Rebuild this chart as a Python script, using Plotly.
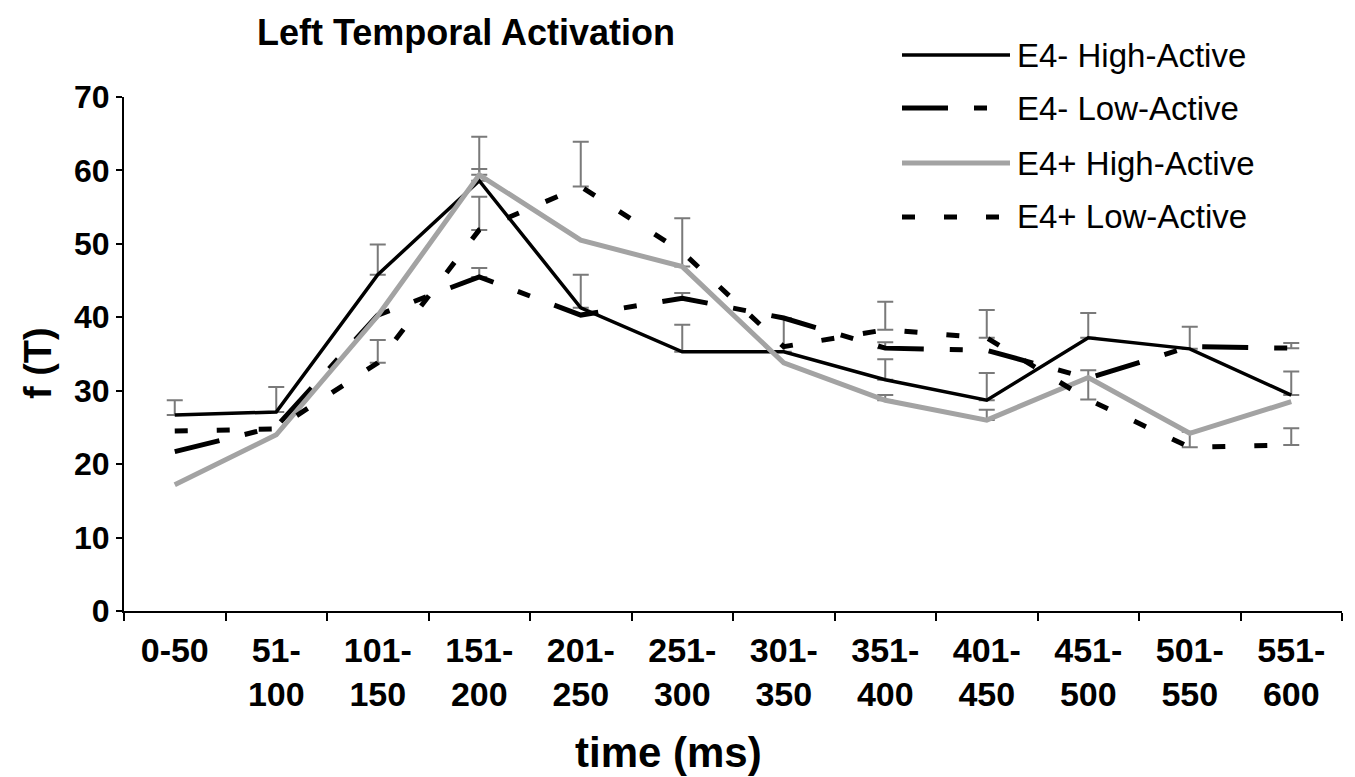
import plotly.graph_objects as go

# ---------------- data ----------------
categories = ["0-50", "51-<br>100", "101-<br>150", "151-<br>200", "201-<br>250", "251-<br>300",
              "301-<br>350", "351-<br>400", "401-<br>450", "451-<br>500", "501-<br>550", "551-<br>600"]

series_names = ["E4- High-Active", "E4- Low-Active", "E4+ High-Active", "E4+ Low-Active"]

e4m_high = [26.7, 27.1, 45.8, 58.6, 41.3, 35.3, 35.3, 31.5, 28.7, 37.2, 35.7, 29.4]
e4m_low = [21.7, 25.1, 40.3, 45.5, 40.3, 42.6, 39.9, 35.8, 35.5, 31.7, 36.0, 35.8]
e4p_high = [17.2, 24.0, 40.2, 59.4, 50.5, 46.9, 33.8, 28.7, 26.0, 31.8, 24.2, 28.5]
e4p_low = [24.5, 24.8, 33.8, 51.9, 57.8, 48.9, 36.0, 38.3, 37.2, 28.8, 22.3, 22.6]

# upper error bars (None = no bar drawn)
err_e4m_high = [2.0, 3.4, 4.1, 1.6, 4.5, 3.7, 4.6, 2.8, 3.7, 3.4, 3.0, 3.2]
err_e4m_low = [None, None, None, 1.2, None, 0.7, None, 0.8, None, None, None, 0.7]
err_e4p_high = [None, None, None, 5.2, None, 6.6, None, 0.7, 1.4, None, None, None]
err_e4p_low = [None, None, 3.1, 4.5, 6.1, None, None, 3.8, 3.8, 4.0, 2.1, 2.3]

y_ticks = [0, 10, 20, 30, 40, 50, 60, 70]

# ---------------- styles ----------------
FONT = "Liberation Sans, Arial, sans-serif"
values = [e4m_high, e4m_low, e4p_high, e4p_low]
errors = [err_e4m_high, err_e4m_low, err_e4p_high, err_e4p_low]
line_styles = [
    dict(color="black", width=3.5, dash="solid"),
    dict(color="black", width=5, dash="46px,26px,13px,26px"),
    dict(color="#a3a3a3", width=5, dash="solid"),
    dict(color="black", width=5, dash="13px,29px"),
]

fig = go.Figure()

# error bars first (beneath lines)
for vals, errs in zip(values, errors):
    xs = [c for c, e in zip(categories, errs) if e is not None]
    ys = [v for v, e in zip(vals, errs) if e is not None]
    es = [e for e in errs if e is not None]
    fig.add_trace(go.Scatter(
        x=xs, y=ys, mode="markers",
        marker=dict(size=1, color="rgba(0,0,0,0)"),
        error_y=dict(type="data", array=es, arrayminus=[0] * len(es), symmetric=False,
                     color="#7a7a7a", thickness=2, width=8),
        showlegend=False, hoverinfo="skip"))

for name, vals, st in zip(series_names, values, line_styles):
    fig.add_trace(go.Scatter(x=categories, y=vals, mode="lines", name=name,
                             line=st, showlegend=False))

# manual legend (long line samples like the reference)
L, R, T, B = 124, 13, 97, 166
W, H = 1355, 777
pw, ph = W - L - R, H - T - B
def px(x):
    return (x - L) / pw
def py(y):
    return (H - B - y) / ph

legend_rows = [55, 108, 163, 217]
for name, st, row in zip(series_names, line_styles, legend_rows):
    fig.add_shape(type="line", xref="paper", yref="paper",
                  x0=px(902), x1=px(1010), y0=py(row), y1=py(row),
                  line=dict(color=st["color"], width=st["width"], dash=st["dash"]))
    fig.add_annotation(xref="paper", yref="paper", x=px(1015), y=py(row),
                       xanchor="left", yanchor="middle", showarrow=False,
                       text=name, font=dict(family=FONT, size=33, color="black"))

# axis titles
fig.add_annotation(xref="paper", yref="paper", x=px(668), y=py(752),
                   xanchor="center", yanchor="middle", showarrow=False,
                   text="time (ms)", font=dict(family=FONT, size=42, color="black", weight="bold"))
fig.add_annotation(xref="paper", yref="paper", x=px(38), y=py(363),
                   xanchor="center", yanchor="middle", showarrow=False, textangle=-90,
                   text="f (T)", font=dict(family=FONT, size=38, color="black", weight="bold"))

fig.update_layout(
    width=W, height=H,
    margin=dict(l=L, r=R, t=T, b=B),
    paper_bgcolor="white", plot_bgcolor="white",
    title=dict(text="Left Temporal Activation", x=px(466), xref="paper", xanchor="center",
               y=1 - 32 / H, yanchor="middle",
               font=dict(family=FONT, size=36, color="black", weight="bold")),
    showlegend=False,
)
fig.update_xaxes(type="category", range=[-0.5, 11.5], tickson="boundaries",
                 ticks="outside", ticklen=8, tickwidth=2, tickcolor="black",
                 showline=True, linecolor="black", linewidth=2, showgrid=False, zeroline=False,
                 ticklabelstandoff=8,
                 tickfont=dict(family=FONT, size=34, color="black", weight="bold"))
fig.update_yaxes(range=[0, 70], tickvals=y_ticks, ticks="outside", ticklen=6, tickwidth=2,
                 tickcolor="black", showline=True, linecolor="black", linewidth=2,
                 showgrid=False, zeroline=False,
                 tickfont=dict(family=FONT, size=32, color="black", weight="bold"))

fig.write_html("out.html")
